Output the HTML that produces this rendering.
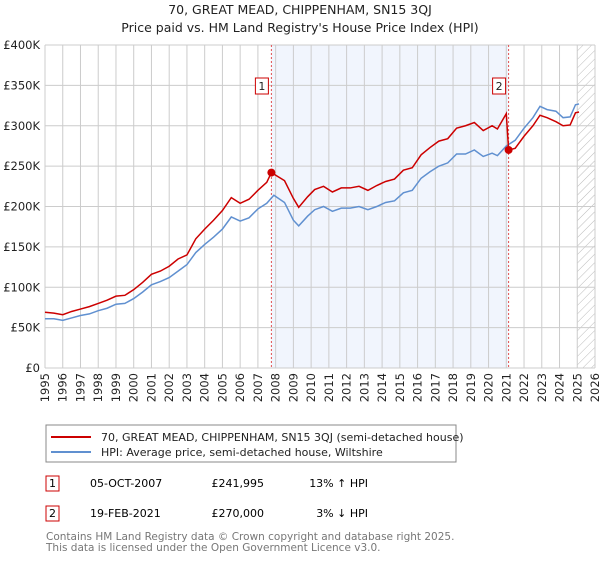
<!DOCTYPE html>
<html><head><meta charset="utf-8"><style>
body{margin:0;background:#fff;font-family:"Liberation Sans","DejaVu Sans",sans-serif}
svg text{font-family:"DejaVu Sans","Liberation Sans",sans-serif}
</style></head><body>
<svg id="c" width="600" height="560" xmlns="http://www.w3.org/2000/svg">
<defs><pattern id="h" width="6" height="6" patternUnits="userSpaceOnUse" patternTransform="rotate(45)"><line x1="0" y1="0" x2="0" y2="6" stroke="#bbb" stroke-width="1"/></pattern></defs>
<text x="300" y="14" text-anchor="middle" font-size="12.5" fill="#222">70, GREAT MEAD, CHIPPENHAM, SN15 3QJ</text>
<text x="300" y="32" text-anchor="middle" font-size="12.5" fill="#222">Price paid vs. HM Land Registry's House Price Index (HPI)</text>
<g id="plot"></g>
<rect x="46" y="425" width="410" height="37" fill="#fff" stroke="#888"/>
<line x1="51" y1="437" x2="91" y2="437" stroke="#cc0000" stroke-width="2"/>
<text x="101" y="441" font-size="11" fill="#222">70, GREAT MEAD, CHIPPENHAM, SN15 3QJ (semi-detached house)</text>
<line x1="51" y1="452" x2="91" y2="452" stroke="#6090d0" stroke-width="2"/>
<text x="101" y="456" font-size="11" fill="#222">HPI: Average price, semi-detached house, Wiltshire</text>
<g>
<rect x="46" y="476" width="13" height="15" fill="#fff" stroke="#cc0000"/>
<text x="52.5" y="487" text-anchor="middle" font-size="11">1</text>
<text x="90" y="487" font-size="11">05-OCT-2007</text>
<text x="264" y="487" text-anchor="end" font-size="11">£241,995</text>
<text x="368" y="487" text-anchor="end" font-size="11">13% ↑ HPI</text></g>
<g>
<rect x="46" y="506" width="13" height="15" fill="#fff" stroke="#cc0000"/>
<text x="52.5" y="517" text-anchor="middle" font-size="11">2</text>
<text x="90" y="517" font-size="11">19-FEB-2021</text>
<text x="264" y="517" text-anchor="end" font-size="11">£270,000</text>
<text x="368" y="517" text-anchor="end" font-size="11">3% ↓ HPI</text></g>
<text x="46" y="540" font-size="10.5" fill="#777">Contains HM Land Registry data © Crown copyright and database right 2025.</text>
<text x="46" y="551" font-size="10.5" fill="#777">This data is licensed under the Open Government Licence v3.0.</text>
</svg>
<script>
const hpiYears=[1995,1995.5,1996,1996.5,1997,1997.5,1998,1998.5,1999,1999.5,2000,2000.5,2001,2001.5,2002,2002.5,2003,2003.5,2004,2004.5,2005,2005.5,2006,2006.5,2007,2007.5,2007.9,2008.5,2009,2009.3,2009.8,2010.2,2010.7,2011.2,2011.7,2012.2,2012.7,2013.2,2013.7,2014.2,2014.7,2015.2,2015.7,2016.2,2016.7,2017.2,2017.7,2018.2,2018.7,2019.2,2019.7,2020.2,2020.5,2021,2021.5,2022,2022.5,2022.9,2023.3,2023.8,2024.2,2024.6,2024.9,2025.1];
const hpiValues=[61,61,59,62,65,67,71,74,79,80,86,94,103,107,112,120,128,143,153,162,172,187,182,186,197,204,214,205,183,176,188,196,200,194,198,198,200,196,200,205,207,217,220,235,243,250,254,265,265,270,262,266,263,275,282,297,310,324,320,318,310,311,326,327];
const priceYears=[1995,1995.5,1996,1996.5,1997,1997.5,1998,1998.5,1999,1999.5,2000,2000.5,2001,2001.5,2002,2002.5,2003,2003.5,2004,2004.5,2005,2005.5,2006,2006.5,2007,2007.5,2007.76,2008.5,2009,2009.3,2009.8,2010.2,2010.7,2011.2,2011.7,2012.2,2012.7,2013.2,2013.7,2014.2,2014.7,2015.2,2015.7,2016.2,2016.7,2017.2,2017.7,2018.2,2018.7,2019.2,2019.7,2020.2,2020.5,2021.0,2021.13,2021.5,2022,2022.5,2022.9,2023.3,2023.8,2024.2,2024.6,2024.9,2025.1];
const priceValues=[69,68,66,70,73,76,80,84,89,90,97,106,116,120,126,135,140,160,172,183,195,211,204,209,220,230,242,232,210,199,212,221,225,218,223,223,225,220,226,231,234,245,248,264,273,281,284,297,300,304,294,300,296,315,270,272,287,300,313,310,305,300,301,316,317];
const saleYears=[2007.76,2021.13];
const saleValues=[241.995,270];
const saleLabels=["1","2"];
const yTicks=[0,50,100,150,200,250,300,350,400];
const yTickLabels=["£0","£50K","£100K","£150K","£200K","£250K","£300K","£350K","£400K"];
const xStart=1995,xEnd=2026;
const X0=45,X1=595,Y0=368,Y1=45;
const x=v=>X0+(v-xStart)/(xEnd-xStart)*(X1-X0);
const y=v=>Y0-v/400*(Y0-Y1);
const NS="http://www.w3.org/2000/svg";
const g=document.getElementById('plot');
function mk(t,a){const e=document.createElementNS(NS,t);for(const k in a)e.setAttribute(k,a[k]);g.appendChild(e);return e;}
let e;
e=mk('rect',{x:x(saleYears[0]),y:Y1,width:x(saleYears[1])-x(saleYears[0]),height:Y0-Y1,fill:'#eef3fc',opacity:0.8});


e=mk('rect',{x:x(2025),y:Y1,width:X1-x(2025),height:Y0-Y1,fill:'url(#h)'});


for(let yr=xStart;yr<=xEnd;yr++){
 e=mk('line',{x1:x(yr),x2:x(yr),y1:Y1,y2:Y0,stroke:'#ccc','stroke-width':1});
 
 
 e=mk('text',{x:0,y:0,transform:`translate(${x(yr)+4},${Y0+5}) rotate(-90)`,'text-anchor':'end','font-size':11.5,fill:'#222'});
 e.textContent=yr;
 
 
}
yTicks.forEach((t,i)=>{
 e=mk('line',{x1:X0,x2:X1,y1:y(t),y2:y(t),stroke:'#ccc','stroke-width':1});
 
 
 e=mk('text',{x:X0-5,y:y(t)+4,'text-anchor':'end','font-size':11.5,fill:'#222'});
 e.textContent=yTickLabels[i];
 
 
});
saleYears.forEach((s,i)=>{
 e=mk('line',{x1:x(s),x2:x(s),y1:Y1,y2:Y0,stroke:'#e05050','stroke-width':1,'stroke-dasharray':'2,2'});
 
 
});
e=mk('polyline',{points:hpiYears.map((v,i)=>x(v)+','+y(hpiValues[i])).join(' '),fill:'none',stroke:'#6090d0','stroke-width':1.5});


e=mk('polyline',{points:priceYears.map((v,i)=>x(v)+','+y(priceValues[i])).join(' '),fill:'none',stroke:'#cc0000','stroke-width':1.5});


saleYears.forEach((s,i)=>{
 e=mk('circle',{cx:x(s),cy:y(saleValues[i]),r:4,fill:'#cc0000'});
 
 
 e=mk('rect',{x:x(s)-16,y:78,width:13,height:16,fill:'#fff',stroke:'#cc0000'});
 
 
 e=mk('text',{x:x(s)-9.5,y:90,'text-anchor':'middle','font-size':11,fill:'#222'});
 e.textContent=saleLabels[i];
 
 
});
</script>
</body></html>
